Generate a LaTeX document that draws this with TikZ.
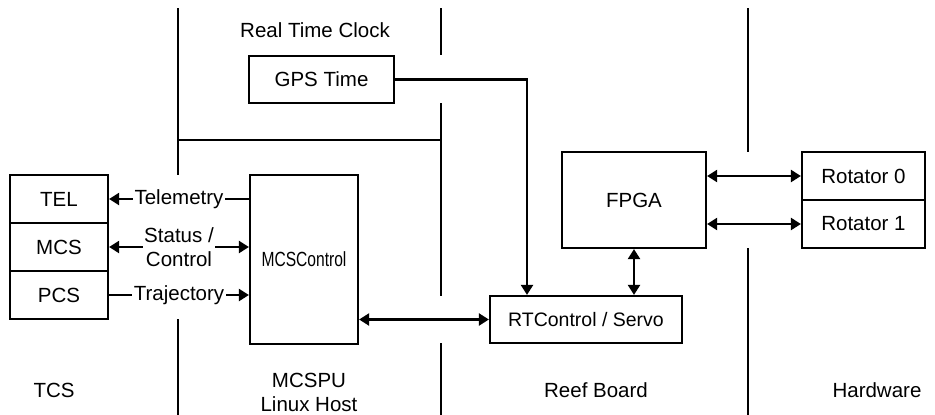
\documentclass[tikz,border=0pt]{standalone}
\usepackage{fontspec}
\usepackage{graphicx}
\setmainfont{Liberation Sans}
\usetikzlibrary{arrows.meta,calc}
\begin{document}
\begin{tikzpicture}[x=1pt,y=-1pt,
  every node/.style={font=\fontsize{20.5}{24}\selectfont},
  box/.style={draw,line width=2.2pt,rectangle,inner sep=0pt},
  lbl/.style={fill=white,inner sep=2pt,align=center},
  txt/.style={align=center,inner sep=0pt},
  divline/.style={line width=2.2pt},
  arr/.style={line width=2.2pt,-{Triangle[length=10pt,width=12pt]}},
  darr/.style={line width=2.2pt,{Triangle[length=10pt,width=12pt]}-{Triangle[length=10pt,width=12pt]}}
]
\useasboundingbox (0,0) rectangle (935,415);
% boxes
\node[box,minimum width=98pt,minimum height=48pt] (TEL) at (59,199) {TEL};
\node[box,minimum width=98pt,minimum height=48pt] (MCS) at (59,247) {MCS};
\node[box,minimum width=98pt,minimum height=48pt] (PCS) at (59,295) {PCS};
\node[box,minimum width=108pt,minimum height=169pt] (MCSC) at (304,259.5) {\scalebox{0.76}[1]{MCSControl}};
\node[box,minimum width=145pt,minimum height=47pt] (GPS) at (321.5,79.5) {GPS Time};
\node[box,minimum width=144pt,minimum height=96pt] (FPGA) at (634,200) {FPGA};
\node[box,minimum width=192pt,minimum height=47pt,font=\fontsize{19.5}{23}\selectfont] (RT) at (586,319.5) {RTControl / Servo};
\node[box,minimum width=123pt,minimum height=48pt] (R0) at (863.5,176) {Rotator 0};
\node[box,minimum width=123pt,minimum height=48pt] (R1) at (863.5,224) {Rotator 1};
% text labels
\node[txt] (rtc) at (315,30) {Real Time Clock};
\node[txt] (tcs) at (54,390) {TCS};
\node[txt] (mcspu) at (309,392) {MCSPU\\Linux Host};
\node[txt] (reef) at (596,390) {Reef Board};
\node[txt] (hw) at (877,390) {Hardware};
% dividers
\draw[divline] (178,8) -- (178,175);
\draw[divline] (178,319) -- (178,415);
\draw[divline] (178,140) -- (441,140);
\draw[divline] (441,8) -- (441,55);
\draw[divline] (441,103) -- (441,296);
\draw[divline] (441,343) -- (441,415);
\draw[divline] (748,8) -- (748,152);
\draw[divline] (748,248) -- (748,415);
% connectors
\draw[arr] (MCSC.west |- TEL.east) -- node[lbl] (tlm) {Telemetry} (TEL.east);
\draw[darr] (MCS.east) -- node[lbl,inner sep=1pt] (stc) {Status /\\Control} (MCSC.west |- MCS.east);
\draw[arr] (PCS.east) -- node[lbl] (trj) {Trajectory} (MCSC.west |- PCS.east);
\draw[darr] (MCSC.east |- RT.west) -- (RT.west);
\coordinate (gx) at (527,0);
\draw[arr] (GPS.east) -| (RT.north -| gx);
\draw[darr] (FPGA.south) -- (RT.north -| FPGA.south);
\draw[darr] (FPGA.east |- R0.west) -- (R0.west);
\draw[darr] (FPGA.east |- R1.west) -- (R1.west);
\end{tikzpicture}
\end{document}
